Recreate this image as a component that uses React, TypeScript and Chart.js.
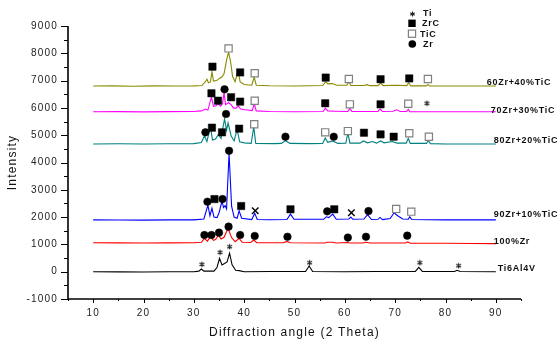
import React, { useEffect, useRef } from 'react';
import { Chart, registerables } from 'chart.js';

Chart.register(...registerables);

type P = [number, number];

// ---------- axes / ticks ----------
const xMin = 5;
const xMax = 95;
const xStep = 5;
const xLabelStep = 10;
const yMin = -1000;
const yMax = 9000;
const yStep = 500;
const yLabelStep = 1000;
const xTitle = 'Diffraction angle (2 Theta)';
const yTitle = 'Intensity';

// ---------- series ----------
const seriesNames = ['60Zr+40%TiC', '70Zr+30%TiC', '80Zr+20%TiC', '90Zr+10%TiC', '100%Zr', 'Ti6Al4V'];
const seriesBaselines = [6800, 5860, 4680, 1900, 1050, 0];

const zr60tic40: P[] = [
  [10, 6800], [14, 6805], [18, 6795], [22, 6805], [26, 6800], [30, 6805], [31.6, 6820], [32.3, 6960], [32.6, 7050],
  [32.9, 6920], [33.3, 6950], [33.6, 7330], [33.9, 6980], [34.5, 7000], [35.1, 7080], [35.6, 7140], [36, 7250],
  [36.5, 7750], [36.9, 8040], [37.3, 7700], [37.7, 7150], [38.2, 6960], [38.8, 7360], [39.2, 6950], [40, 6860],
  [41.5, 6830], [42, 7120], [42.4, 6830], [45, 6810], [50, 6800], [55.6, 6820], [56.2, 6960], [56.6, 6880],
  [57.5, 6890], [58.4, 6830], [60.4, 6830], [60.8, 6970], [61.2, 6820], [63.8, 6820], [64.4, 6850], [65, 6815],
  [66.6, 6815], [67.1, 6910], [67.6, 6815], [70, 6830], [72.3, 6815], [72.7, 6920], [73.1, 6805], [76.2, 6805],
  [76.5, 6860], [76.8, 6805], [80, 6800], [85, 6800], [90, 6800],
];

const zr70tic30: P[] = [
  [10, 5860], [15, 5865], [20, 5855], [25, 5865], [30, 5870], [31.5, 5890], [32.3, 5960], [32.8, 5920], [33.5, 6400],
  [33.9, 6060], [34.4, 6080], [34.8, 6160], [35.3, 6060], [35.7, 6150], [36, 6560], [36.3, 6120], [36.9, 6190],
  [37.4, 6120], [37.9, 5990], [38.4, 5990], [38.8, 6080], [39.3, 5960], [40.2, 5930], [41.6, 5900], [42, 6150],
  [42.4, 5890], [45, 5870], [50, 5860], [55.7, 5870], [56.1, 5990], [56.6, 5890], [58, 5880], [60.6, 5870],
  [61, 5970], [61.4, 5870], [64, 5870], [66.6, 5870], [67, 5960], [67.5, 5870], [69.6, 5880], [70.3, 5930],
  [71, 5870], [72.3, 5870], [72.6, 5950], [72.9, 5860], [80, 5860], [90, 5860],
];

const zr80tic20: P[] = [
  [10, 4680], [15, 4685], [20, 4675], [25, 4685], [30, 4690], [31.5, 4730], [32.1, 4980], [32.6, 4770], [33.3, 5310],
  [33.7, 4820], [34.3, 4860], [34.9, 5030], [35.4, 4880], [36.1, 5600], [36.5, 5180], [36.8, 5450], [37.4, 4980],
  [38, 4790], [38.6, 5210], [39.1, 4760], [40, 4720], [41.4, 4700], [41.9, 5310], [42.3, 4700], [46, 4690],
  [47.4, 4700], [48.2, 4800], [49.1, 4700], [53, 4690], [55.6, 4700], [56.1, 4900], [56.6, 4740], [57.6, 4790],
  [58.6, 4700], [60.2, 4710], [60.6, 5090], [61, 4710], [63, 4710], [63.7, 4790], [64.5, 4720], [65.5, 4770],
  [66.3, 4710], [67.1, 4790], [67.8, 4720], [69.4, 4770], [70.4, 4710], [72.2, 4710], [72.6, 4880], [73, 4700],
  [76.2, 4700], [76.6, 4800], [77, 4690], [80, 4680], [85, 4680], [90, 4680],
];

const zr90tic10: P[] = [
  [10, 1900], [15, 1895], [20, 1890], [25, 1900], [30, 1900], [32, 1930], [32.8, 2440], [33.2, 2050], [33.6, 2320],
  [34, 2000], [34.6, 1980], [35, 2150], [35.6, 2590], [35.9, 2350], [36.2, 2420], [36.5, 2300], [37, 4340],
  [37.5, 2400], [38, 2000], [38.6, 1960], [39, 2230], [39.5, 1960], [41.5, 1910], [42.1, 2140], [42.6, 1910],
  [45, 1905], [48.5, 1910], [49.2, 2110], [49.9, 1920], [55.8, 1920], [56.3, 2010], [56.8, 1980], [57.6, 2110],
  [58.3, 1920], [60.8, 1930], [61.2, 2000], [61.6, 1920], [63.8, 1930], [64.5, 2090], [65.3, 1910], [66.6, 1920],
  [67, 1990], [67.5, 1910], [69, 1950], [69.8, 2160], [70.5, 2050], [71.5, 1930], [72.6, 1920], [72.9, 2010],
  [73.3, 1910], [80, 1900], [85, 1900], [90, 1900],
];

const zr100: P[] = [
  [10, 1060], [15, 1055], [20, 1050], [25, 1055], [30, 1060], [31.5, 1080], [32.1, 1220], [32.7, 1120], [33.3, 1280],
  [33.9, 1150], [34.3, 1180], [34.9, 1340], [35.4, 1200], [36, 1260], [36.8, 1590], [37.5, 1250], [38.2, 1100],
  [39, 1220], [39.6, 1080], [41.3, 1070], [41.9, 1160], [42.5, 1060], [47.8, 1060], [48.5, 1110], [49.2, 1060],
  [56, 1050], [56.5, 1080], [57.5, 1080], [58.3, 1050], [60.5, 1070], [61, 1050], [63.5, 1050], [64.2, 1080],
  [65, 1050], [72, 1050], [72.5, 1090], [73, 1040], [80, 1040], [85, 1035], [90, 1030],
];

const ti6al4v: P[] = [
  [10, 0], [15, -5], [20, -10], [25, 0], [30, 0], [31, 20], [31.5, 100], [32, 20], [34, 20], [34.6, 150], [35.1, 490],
  [35.6, 250], [36.1, 300], [36.6, 360], [37.1, 680], [37.6, 250], [38.3, 50], [39, 40], [40, 0], [45, 5], [52.2, 10],
  [52.9, 210], [53.6, 10], [60, 0], [66, 5], [74, 10], [74.7, 160], [75.4, 10], [81.8, 10], [82.3, 50], [82.9, 10],
  [90, 0],
];

// ---------- phase markers ----------
const zrcMarks: P[] = [
  [33.7, 7510], [39.2, 7300], [56.2, 7110], [67.1, 7050], [72.8, 7080],
  [33.5, 6535], [34.8, 6264], [37.4, 6390], [39.2, 6230], [56.1, 6170], [67.1, 6130],
  [33.6, 5275], [35.6, 5105], [39.0, 5240], [63.8, 5090], [67.1, 5030], [69.7, 4945],
  [34.1, 2660], [39.4, 2405], [49.2, 2285], [57.9, 2285],
];
const ticMarks: P[] = [
  [36.9, 8180], [42.1, 7270], [60.8, 7060], [76.5, 7060],
  [42.1, 6264], [61.0, 6130], [72.6, 6150],
  [42.0, 5400], [56.1, 5105], [60.6, 5150], [72.8, 5070], [76.7, 4945],
  [70.2, 2300], [73.2, 2200],
];
const zrMarks: P[] = [
  [36.1, 6680],
  [32.3, 5105], [36.4, 5777], [48.2, 4945], [57.8, 4945],
  [32.7, 2565], [35.7, 2660], [37.0, 4430], [56.5, 2210], [64.7, 2220],
  [32.1, 1345], [33.5, 1345], [35.0, 1430], [36.9, 1650], [39.2, 1345], [42.1, 1310], [48.6, 1280], [60.6, 1250],
  [64.2, 1280], [72.4, 1320],
];
const tiMarks: P[] = [
  [76.3, 6170],
  [31.6, 270], [35.2, 710], [37.1, 915], [53.0, 330], [74.9, 330], [82.6, 220],
];
const otherMarks: P[] = [[42.2, 2235], [61.3, 2160]];

const legendNames = ['Ti', 'ZrC', 'TiC', 'Zr'];

// ---------- styles ----------
const seriesData = [zr60tic40, zr70tic30, zr80tic20, zr90tic10, zr100, ti6al4v];
const seriesColors = ['#8a8a00', '#ff00ff', '#008080', '#0000ff', '#ff0000', '#000000'];
const FONT = 'Arial, "Liberation Sans", Helvetica, sans-serif';

const toXY = (arr: P[]) => arr.map(([x, y]) => ({ x, y }));

function drawStar(ctx: CanvasRenderingContext2D, cx: number, cy: number, r: number) {
  ctx.beginPath();
  for (let i = 0; i < 3; i++) {
    const a = (Math.PI / 3) * i + Math.PI / 2;
    ctx.moveTo(cx + Math.cos(a) * r, cy + Math.sin(a) * r);
    ctx.lineTo(cx - Math.cos(a) * r, cy - Math.sin(a) * r);
  }
  ctx.stroke();
}

const starImg = (() => {
  if (typeof document === 'undefined') return 'star';
  const c = document.createElement('canvas');
  c.width = 7;
  c.height = 7;
  const g = c.getContext('2d')!;
  g.strokeStyle = '#222';
  g.lineWidth = 1.1;
  drawStar(g, 3.5, 3.5, 2.8);
  return c;
})();

const decoPlugin = {
  id: 'deco',
  beforeDraw(chart: any) {
    chart.ctx.letterSpacing = '1.2px';
  },
  afterDatasetsDraw(chart: any) {
    const { ctx, scales } = chart;
    const x = scales.x;
    const y = scales.y;
    const dx = [-9, -5, -2, -2, -2, 2];
    const dy = [-4, -1, -3, -5, -1.5, -3];
    ctx.save();
    ctx.letterSpacing = '0.7px';
    ctx.font = `bold 9px ${FONT}`;
    ctx.fillStyle = '#111';
    ctx.textBaseline = 'middle';
    ctx.textAlign = 'left';
    seriesNames.forEach((name, i) => {
      const px = x.getPixelForValue(90) + dx[i];
      const py = y.getPixelForValue(seriesBaselines[i]) + dy[i];
      ctx.fillText(name, px, py);
    });
    ctx.restore();
  },
  afterDraw(chart: any) {
    const { ctx, chartArea: a, scales } = chart;
    const x = scales.x;
    const y = scales.y;
    ctx.save();
    ctx.letterSpacing = '0px';
    ctx.strokeStyle = '#000';
    ctx.lineWidth = 1.6;
    ctx.beginPath();
    ctx.moveTo(a.left, a.top);
    ctx.lineTo(a.left, a.bottom);
    ctx.lineTo(a.right, a.bottom);
    ctx.stroke();
    ctx.lineWidth = 1;
    ctx.beginPath();
    for (let v = yMin; v <= yMax + 1e-6; v += yStep) {
      const py = Math.round(y.getPixelForValue(v)) + 0.5;
      const len = v % yLabelStep === 0 ? 7 : 4;
      ctx.moveTo(a.left - len, py);
      ctx.lineTo(a.left, py);
    }
    for (let v = xMin; v <= xMax + 1e-6; v += xStep) {
      const px = Math.round(x.getPixelForValue(v)) + 0.5;
      const len = v % xLabelStep === 0 ? 4 : 2;
      ctx.moveTo(px, a.bottom);
      ctx.lineTo(px, a.bottom + len);
    }
    ctx.stroke();

    // legend
    const lx = 412;
    const ly = [13, 23.3, 33.7, 44];
    ctx.fillStyle = '#000';
    ctx.strokeStyle = '#222';
    ctx.lineWidth = 1.1;
    drawStar(ctx, lx + 0.5, ly[0] + 1, 2.6);
    ctx.fillRect(lx - 3.7, ly[1] - 3.7, 7.4, 7.4);
    ctx.fillStyle = '#fff';
    ctx.strokeStyle = '#808080';
    ctx.lineWidth = 1.2;
    ctx.fillRect(lx - 3.6, ly[2] - 3.6, 7.2, 7.2);
    ctx.strokeRect(lx - 3.6, ly[2] - 3.6, 7.2, 7.2);
    ctx.fillStyle = '#000';
    ctx.beginPath();
    ctx.arc(lx + 0.3, ly[3], 3.8, 0, Math.PI * 2);
    ctx.fill();
    ctx.letterSpacing = '0.7px';
    ctx.font = `bold 9px ${FONT}`;
    ctx.textBaseline = 'middle';
    ctx.textAlign = 'left';
    ctx.fillStyle = '#111';
    const tx = [423, 422, 420, 423];
    legendNames.forEach((n, i) => ctx.fillText(n, tx[i], ly[i] + 0.5));
    ctx.restore();
  },
};

export default function App() {
  const ref = useRef<HTMLCanvasElement>(null);
  useEffect(() => {
    const lineSets = seriesData.map((d, i) => ({
      type: 'line' as const,
      label: seriesNames[i],
      data: toXY(d),
      borderColor: seriesColors[i],
      backgroundColor: seriesColors[i],
      borderWidth: 1.1,
      pointRadius: 0,
      tension: 0,
      fill: false,
    }));
    const mk = (label: string, d: P[], style: any, radius: number, bg: string, border: string, bw: number) => ({
      type: 'line' as const,
      label,
      data: toXY(d),
      showLine: false,
      pointStyle: style,
      pointRadius: radius,
      pointBackgroundColor: bg,
      pointBorderColor: border,
      pointBorderWidth: bw,
      borderColor: border,
      backgroundColor: bg,
    });
    const markerSets = [
      mk('ZrC', zrcMarks, 'rect', 5.2, '#000', '#000', 0.5),
      mk('TiC', ticMarks, 'rect', 5.1, '#fff', '#808080', 1.2),
      mk('Zr', zrMarks, 'circle', 3.8, '#000', '#000', 0.5),
      mk('Ti', tiMarks, starImg, 3.5, '#222', '#222', 1),
      mk('X', otherMarks, 'crossRot', 4.6, '#000', '#000', 1.4),
    ];
    const tickFont = { family: FONT, size: 10 };
    const chart = new Chart(ref.current!, {
      type: 'line',
      data: { datasets: [...markerSets, ...lineSets] as any },
      options: {
        animation: false,
        responsive: false,
        devicePixelRatio: 1,
        layout: { padding: { left: 0, top: 26, right: 39, bottom: 0 } },
        plugins: { legend: { display: false }, tooltip: { enabled: false }, title: { display: false } },
        scales: {
          x: {
            type: 'linear',
            min: xMin,
            max: xMax,
            grid: { display: false, drawTicks: false },
            border: { display: false },
            ticks: {
              stepSize: xStep,
              autoSkip: false,
              maxRotation: 0,
              padding: 8,
              color: '#222',
              font: tickFont,
              callback: (v: any) => (v % xLabelStep === 0 && v > xMin && v < xMax ? String(v) : ''),
            },
            title: { display: true, text: xTitle, color: '#111', font: { family: FONT, size: 12, lineHeight: 1 }, padding: { top: 0, bottom: 8 } },
            afterFit: (s: any) => { s.height = 48; },
          },
          y: {
            type: 'linear',
            min: yMin,
            max: yMax,
            grid: { display: false, drawTicks: false },
            border: { display: false },
            ticks: {
              stepSize: yStep,
              autoSkip: false,
              padding: 10,
              color: '#222',
              font: tickFont,
              callback: (v: any) => (v % yLabelStep === 0 ? String(v) : ''),
            },
            title: { display: true, text: yTitle, color: '#111', font: { family: FONT, size: 12, lineHeight: 1 }, padding: { top: 7, bottom: 0 } },
            afterFit: (s: any) => { s.width = 68; },
          },
        },
      } as any,
      plugins: [decoPlugin],
    });
    return () => chart.destroy();
  }, []);
  return (
    <div style={{ position: 'absolute', left: 0, top: 0, width: 560, height: 347, background: '#fff' }}>
      <canvas ref={ref} width={560} height={347} style={{ display: 'block', width: 560, height: 347 }} />
    </div>
  );
}
